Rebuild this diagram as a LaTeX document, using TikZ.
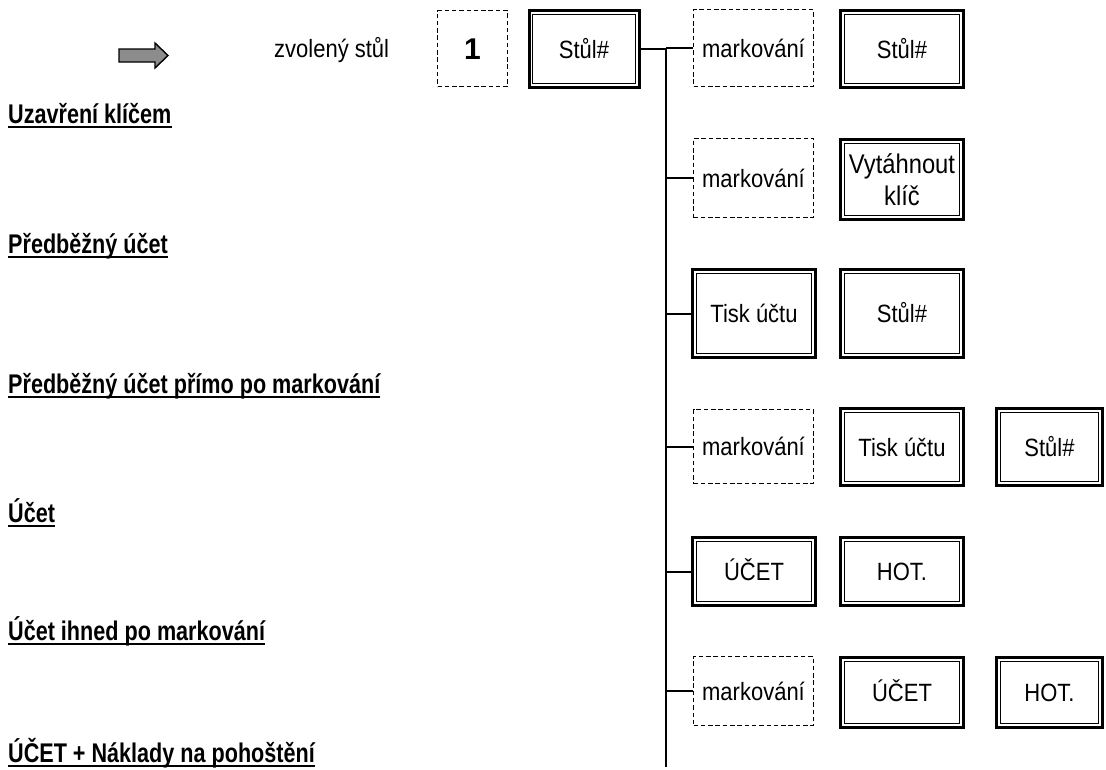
\documentclass[tikz,border=0pt]{standalone}
\usepackage{fontspec}
\setmainfont{Liberation Sans}
\newfontfamily\bxfont{Liberation Sans}[FakeStretch=0.88]
\newfontfamily\hfont{Liberation Sans}[FakeStretch=0.8]
\begin{document}
\begin{tikzpicture}[x=1pt,y=-1pt,
  txt/.style={font=\bxfont\fontsize{25}{29}\selectfont, align=center, inner sep=0pt},
  one/.style={text height=18pt, text depth=0pt},
  dbox/.style={txt, one, draw, line width=1.6pt, dash pattern=on 4.5pt off 2.8pt},
  wbox/.style={txt, draw, line width=3pt,
    path picture={\draw[line width=1pt]
      ([shift={(3.7pt,-3.7pt)}]path picture bounding box.north west) rectangle
      ([shift={(-3.7pt,3.7pt)}]path picture bounding box.south east);}},
  head/.style={anchor=base west, inner sep=0pt, font=\hfont\bfseries\fontsize{27}{31}\selectfont},
  conn/.style={line width=2pt}
]
\useasboundingbox (0,0) rectangle (1106,769);

% gray arrow
\draw[line width=1.4pt, fill=black!45, line join=miter]
  (119,49) -- (155,49) -- (155,43) -- (168,55.5) -- (155,68) -- (155,62) -- (119,62) -- cycle;

\node[txt, anchor=base west] (zv) at (274,57) {zvolený stůl};

\node[dbox, minimum width=70, minimum height=76, font=\bfseries\fontsize{30}{34}\selectfont, text height=21pt] (one) at (472.5,48.5) {1};
\node[wbox, one, minimum width=110, minimum height=77] (s0) at (584,49) {Stůl\#};

% row 1
\node[dbox, minimum width=120, minimum height=77] (m1) at (753.5,48) {markování};
\node[wbox, one, minimum width=123, minimum height=77] (s1) at (902,49) {Stůl\#};
% row 2
\node[dbox, minimum width=120, minimum height=79] (m2) at (753.5,178) {markování};
\node[wbox, minimum width=123, minimum height=80, font=\bxfont\fontsize{27}{32}\selectfont] (v2) at (902,179.5) {Vytáhnout\\klíč};
% row 3
\node[wbox, one, minimum width=123, minimum height=88] (t3) at (754,313.5) {Tisk účtu};
\node[wbox, one, minimum width=123, minimum height=88] (s3) at (902,313.5) {Stůl\#};
% row 4
\node[dbox, minimum width=120, minimum height=74] (m4) at (753.5,446.5) {markování};
\node[wbox, one, minimum width=123, minimum height=77] (t4) at (902,447) {Tisk účtu};
\node[wbox, one, minimum width=106, minimum height=77] (s4) at (1049.5,447) {Stůl\#};
% row 5
\node[wbox, one, minimum width=123, minimum height=68] (u5) at (754,571.5) {ÚČET};
\node[wbox, one, minimum width=123, minimum height=68] (h5) at (902,571.5) {HOT.};
% row 6
\node[dbox, minimum width=120, minimum height=69] (m6) at (753.5,691) {markování};
\node[wbox, one, minimum width=123, minimum height=70] (u6) at (902,692.5) {ÚČET};
\node[wbox, one, minimum width=106, minimum height=70] (h6) at (1049.5,692.5) {HOT.};

% connectors
\coordinate (ttop) at (666,49);
\coordinate (tbot) at (666,767);
\draw[conn] (s0.east) -- (ttop);
\draw[conn] (ttop) -- (tbot);
\draw[conn] (ttop |- m1.west) -- (m1.west);
\draw[conn] (ttop |- m2.west) -- (m2.west);
\draw[conn] (ttop |- t3.west) -- (t3.west);
\draw[conn] (ttop |- m4.west) -- (m4.west);
\draw[conn] (ttop |- u5.west) -- (u5.west);
\draw[conn] (ttop |- m6.west) -- (m6.west);

% headings
\foreach \n/\y/\t in {h1/123/{Uzavření klíčem}, h2/253/{Předběžný účet}, h3/393/{Předběžný účet přímo po markování}, h4/522/{Účet}, h5/640/{Účet ihned po markování}, h6/762/{ÚČET + Náklady na pohoštění}} {
  \node[head] (\n) at (8,\y) {\t};
  \draw[line width=2pt] ([yshift=-3.5pt]\n.base west) -- ([yshift=-3.5pt]\n.base east);
}
\end{tikzpicture}
\end{document}
